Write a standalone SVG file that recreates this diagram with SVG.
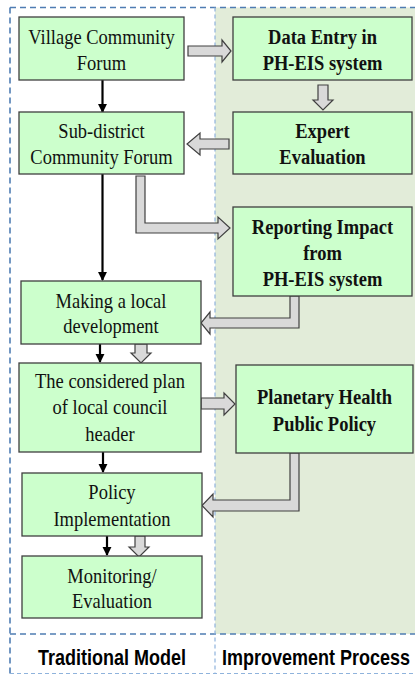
<svg xmlns="http://www.w3.org/2000/svg" width="415" height="675" viewBox="0 0 415 675">
  <style>
    .box { fill: #ccffcc; stroke: #3f3f3f; stroke-width: 1.3; }
    .t { font-family: "Liberation Serif", "Times New Roman", serif; font-size: 18.5px; fill: #111; text-anchor: middle;
         transform-box: fill-box; transform-origin: center; transform: scale(1, 1.14); }
    .b { font-weight: bold; }
    .lbl { font-family: "Liberation Sans", Arial, sans-serif; font-weight: bold; font-size: 18px; fill: #000; text-anchor: middle;
           transform-box: fill-box; transform-origin: center; transform: scale(1, 1.2); }
    .blk { stroke: #000; stroke-width: 2.2; fill: none; marker-end: url(#head); }
    .gray { fill: #d9d9d9; stroke: #404040; stroke-width: 1.2; stroke-linejoin: miter; }
    .dk { stroke: #4f7db3; stroke-width: 1.6; stroke-dasharray: 6 4; fill: none; }
    .lt { stroke: #8fb3dc; stroke-width: 1.2; stroke-dasharray: 4 3; fill: none; }
  </style>
  <defs>
    <marker id="head" viewBox="0 0 10 10" refX="9" refY="5" markerWidth="4.2" markerHeight="4.2" markerUnits="strokeWidth" orient="auto">
      <path d="M0,0 L10,5 L0,10 Z" fill="#000"/>
    </marker>
  </defs>

  <rect width="415" height="675" fill="#ffffff"/>

  <!-- panels -->
  <g id="panels">
    <rect x="215" y="7.5" width="200" height="626.5" fill="#e2ecd9"/>
    <line class="dk" x1="10" y1="7.5" x2="415" y2="7.5"/>
    <line class="dk" x1="10" y1="7.5" x2="10" y2="674"/>
    <line class="dk" x1="10" y1="634" x2="415" y2="634"/>
    <line class="lt" x1="10" y1="673.5" x2="415" y2="673.5"/>
    <line class="lt" x1="215" y1="7.5" x2="215" y2="674"/>
  </g>

  <!-- connectors -->
  <g id="connectors">
    <line class="blk" x1="102.5" y1="80" x2="102.5" y2="112"/>
    <line class="blk" x1="102.5" y1="174" x2="102.5" y2="280"/>
    <line class="blk" x1="100" y1="344" x2="100" y2="362"/>
    <line class="blk" x1="103" y1="452" x2="103" y2="472"/>
    <line class="blk" x1="107" y1="536" x2="107" y2="555"/>

    <polygon class="gray" points="188,46 222,46 222,40 231,51 222,62 222,56 188,56"/>
    <polygon class="gray" points="318,85 328,85 328,100 333,100 323,110 313,100 318,100"/>
    <polygon class="gray" points="229,139 200,139 200,133 187,144 200,155 200,149 229,149"/>
    <polygon class="gray" points="136,176 145,176 145,223 218,223 218,217 230,228 218,239 218,233 136,233"/>
    <polygon class="gray" points="290,296 299,296 299,328 210,328 210,334 201,323 210,312 210,318 290,318"/>
    <polygon class="gray" points="135,344 147,344 147,353 151,353 141,363 131,353 135,353"/>
    <polygon class="gray" points="201,398 224,398 224,393 235,404 224,415 224,409 201,409"/>
    <polygon class="gray" points="290,453 299,453 299,511 213,511 213,517 202,505.5 213,494 213,500 290,500"/>
    <polygon class="gray" points="135,536 145,536 145,547 149,547 139,557 129,547 135,547"/>
  </g>

  <!-- traditional model -->
  <g id="village-forum">
    <rect class="box" x="19" y="17" width="165" height="63"/>
    <text class="t" x="101.5" y="43">Village Community</text>
    <text class="t" x="101.5" y="69">Forum</text>
  </g>
  <g id="subdistrict-forum">
    <rect class="box" x="19" y="112" width="165" height="62"/>
    <text class="t" x="101.5" y="137">Sub-district</text>
    <text class="t" x="101.5" y="163">Community Forum</text>
  </g>
  <g id="local-development">
    <rect class="box" x="21" y="281" width="180" height="63"/>
    <text class="t" x="111" y="307">Making a local</text>
    <text class="t" x="111" y="332">development</text>
  </g>
  <g id="council-plan">
    <rect class="box" x="19" y="363" width="182" height="89"/>
    <text class="t" x="110" y="387">The considered plan</text>
    <text class="t" x="110" y="413">of local council</text>
    <text class="t" x="110" y="440">header</text>
  </g>
  <g id="policy-implementation">
    <rect class="box" x="22" y="473" width="180" height="63"/>
    <text class="t" x="112" y="498">Policy</text>
    <text class="t" x="112" y="525">Implementation</text>
  </g>
  <g id="monitoring">
    <rect class="box" x="22" y="556" width="180" height="62"/>
    <text class="t" x="112" y="582">Monitoring/</text>
    <text class="t" x="112" y="607">Evaluation</text>
  </g>

  <!-- improvement process -->
  <g id="data-entry">
    <rect class="box" x="233" y="17" width="179" height="63"/>
    <text class="t b" x="322.5" y="43">Data Entry in</text>
    <text class="t b" x="322.5" y="69">PH-EIS system</text>
  </g>
  <g id="expert-evaluation">
    <rect class="box" x="233" y="112" width="179" height="62"/>
    <text class="t b" x="322.5" y="137">Expert</text>
    <text class="t b" x="322.5" y="163">Evaluation</text>
  </g>
  <g id="reporting-impact">
    <rect class="box" x="233" y="207" width="179" height="89"/>
    <text class="t b" x="322.5" y="233">Reporting Impact</text>
    <text class="t b" x="322.5" y="259">from</text>
    <text class="t b" x="322.5" y="285">PH-EIS system</text>
  </g>
  <g id="public-policy">
    <rect class="box" x="236" y="365" width="177" height="88"/>
    <text class="t b" x="324.5" y="403">Planetary Health</text>
    <text class="t b" x="324.5" y="430">Public Policy</text>
  </g>

  <!-- column labels -->
  <g id="labels">
    <text class="lbl" x="112" y="664">Traditional Model</text>
    <text class="lbl" x="316" y="664">Improvement Process</text>
  </g>
</svg>
